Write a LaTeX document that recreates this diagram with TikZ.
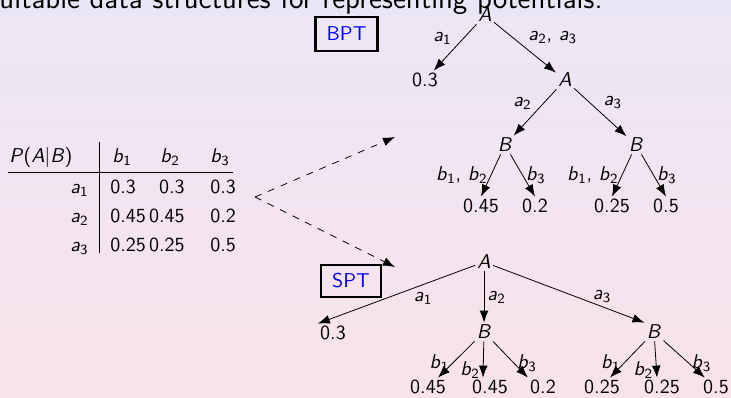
\documentclass[tikz,border=0pt]{standalone}
\usetikzlibrary{arrows.meta}
\definecolor{slidetop}{RGB}{235,230,246}
\definecolor{slidebottom}{RGB}{249,227,234}
\newcommand\sv[1]{\textit{#1}}
\newcommand\sub[2]{\textit{#1}\textsubscript{#2}}
\tikzset{
  cell/.style={inner sep=0pt},
  treenode/.style={inner sep=1pt},
  edgelabel/.style={inner sep=1.5pt},
  branch/.style={line width=0.4pt, -{Latex[length=6pt,width=4.4pt]}},
  linkto/.style={branch, dash pattern=on 3.5pt off 3.5pt},
  tag/.style={draw, line width=1.1pt, text=blue, inner sep=0pt,
    minimum width=31pt, minimum height=17pt}
}
\begin{document}
\begin{tikzpicture}[x=0.5pt, y=-0.5pt, font=\sffamily]
  \useasboundingbox (0,0) rectangle (731,397);
  \shade[top color=slidetop, bottom color=slidebottom] (0,0) rectangle (731,397);
  \clip (0,0) rectangle (731,397);
  \node[cell, anchor=base east, font=\sffamily\fontsize{14.8}{17}\selectfont] (title) at (603,8)
    {Suitable data structures for representing potentials:};

  % table
  \node[cell, anchor=base west] (pab) at (9,162) {\sv{P}(\sv{A}|\sv{B})};
  \node[cell, anchor=base west] (hb1) at (112,162) {\sub{b}{1}};
  \node[cell, anchor=base west] (hb2) at (160,162) {\sub{b}{2}};
  \node[cell, anchor=base west] (hb3) at (210,162) {\sub{b}{3}};
  \foreach \r/\y/\p/\q/\s in {1/193/0.3/0.3/0.3, 2/222/0.45/0.45/0.2, 3/251/0.25/0.25/0.5} {
    \node[cell, anchor=base east] (row\r) at (89,\y) {\sub{a}{\r}};
    \node[cell, anchor=base west] (c\r-1) at (110,\y) {\p};
    \node[cell, anchor=base east] (c\r-2) at (185,\y) {\q};
    \node[cell, anchor=base west] (c\r-3) at (210,\y) {\s};
  }
  \draw[line width=0.5pt] (8,172) -- (233,172);
  \draw[line width=0.5pt] (99,142) -- (99,253);

  % the two representations
  \coordinate (fork) at (255,197);
  \coordinate (tobpt) at (395,137);
  \coordinate (tospt) at (395,267);
  \draw[linkto] (fork) -- (tobpt);
  \draw[linkto] (fork) -- (tospt);
  \node[tag] (bpt) at (346.5,34) {BPT};
  \node[tag, minimum width=30pt, minimum height=16pt] (spt) at (351,281) {SPT};

  % BPT
  \node[treenode] (bA) at (485,15) {\sv{A}};
  \node[treenode] (b03) at (425,80) {0.3};
  \node[treenode] (bA2) at (565,80) {\sv{A}};
  \node[treenode] (bB1) at (505,145) {\sv{B}};
  \node[treenode] (bB2) at (636,145) {\sv{B}};
  \node[treenode] (bl1) at (481,206) {0.45};
  \node[treenode] (bl2) at (535,206) {0.2};
  \node[treenode] (bl3) at (612,206) {0.25};
  \node[treenode] (bl4) at (666,206) {0.5};
  \draw[branch] (bA) -- node[edgelabel, above left] {\sub{a}{1}} (b03);
  \draw[branch] (bA) -- node[edgelabel, above right] {\sub{a}{2}, \sub{a}{3}} (bA2);
  \draw[branch] (bA2) -- node[edgelabel, above left] {\sub{a}{2}} (bB1);
  \draw[branch] (bA2) -- node[edgelabel, above right] {\sub{a}{3}} (bB2);
  \draw[branch] (bB1) -- node[edgelabel, left] {\sub{b}{1}, \sub{b}{2}} (bl1.north);
  \draw[branch] (bB1) -- node[edgelabel, right] {\sub{b}{3}} (bl2.north);
  \draw[branch] (bB2) -- node[edgelabel, left] {\sub{b}{1}, \sub{b}{2}} (bl3.north);
  \draw[branch] (bB2) -- node[edgelabel, right] {\sub{b}{3}} (bl4.north);

  % SPT
  \node[treenode] (sA) at (484,262) {\sv{A}};
  \node[treenode] (s03) at (333,333) {0.3};
  \node[treenode] (sB1) at (484,332) {\sv{B}};
  \node[treenode] (sB2) at (654,332) {\sv{B}};
  \node[treenode] (sl1) at (428,387) {0.45};
  \node[treenode] (sl2) at (490,387) {0.45};
  \node[treenode] (sl3) at (543,387) {0.2};
  \node[treenode] (sl4) at (602,387) {0.25};
  \node[treenode] (sl5) at (662,387) {0.25};
  \node[treenode] (sl6) at (716,387) {0.5};
  \draw[branch] (sA) -- node[edgelabel, pos=0.33, below=2pt] {\sub{a}{1}} (s03.north west);
  \draw[branch] (sA) -- node[edgelabel, right] {\sub{a}{2}} (sB1);
  \draw[branch] (sA) -- node[edgelabel, pos=0.72, above] {\sub{a}{3}} (sB2.north west);
  \draw[branch] (sB1) -- node[edgelabel, pos=0.6, left] {\sub{b}{1}} ([xshift=5pt]sl1.north);
  \draw[branch] (sB1) -- node[edgelabel, pos=0.8, left] {\sub{b}{2}} ([xshift=-3.5pt]sl2.north);
  \draw[branch] (sB1) -- node[edgelabel, pos=0.6, right] {\sub{b}{3}} (sl3.north west);
  \draw[branch] (sB2) -- node[edgelabel, pos=0.6, left] {\sub{b}{1}} ([xshift=4pt]sl4.north);
  \draw[branch] (sB2) -- node[edgelabel, pos=0.8, left] {\sub{b}{2}} ([xshift=-2.5pt]sl5.north);
  \draw[branch] (sB2) -- node[edgelabel, pos=0.6, right] {\sub{b}{3}} ([xshift=2pt]sl6.north west);
\end{tikzpicture}
\end{document}
